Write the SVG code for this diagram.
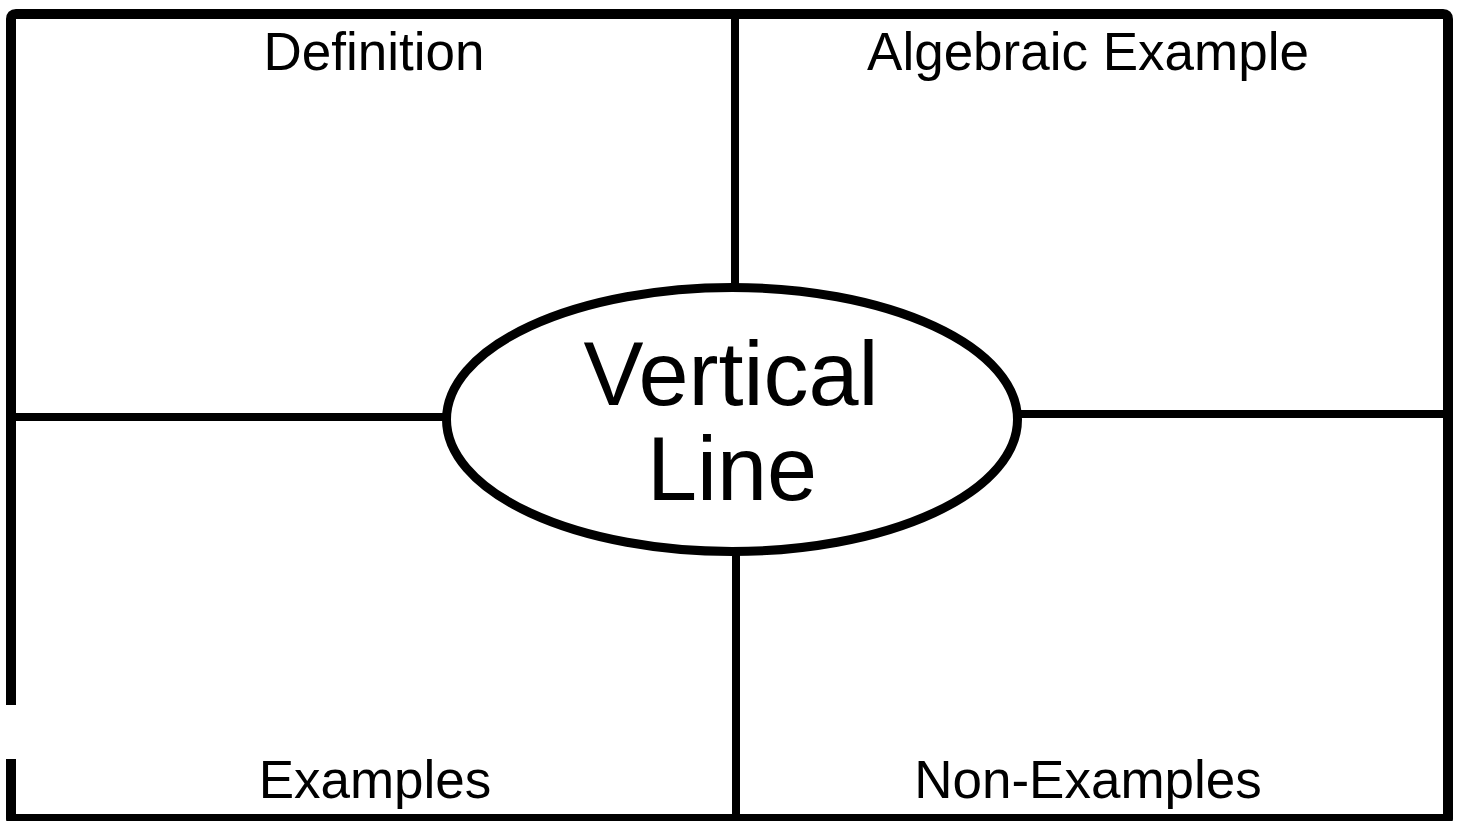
<svg xmlns="http://www.w3.org/2000/svg" width="1460" height="821" viewBox="0 0 1460 821">
  <style>
    .frame { fill: none; stroke: #000; stroke-width: 10; stroke-linejoin: round; }
    .div { fill: none; stroke: #000; stroke-width: 8; }
    .oval { fill: #fff; stroke: #000; stroke-width: 9; }
    .lbl { font-family: "Liberation Sans", Arial, sans-serif; font-size: 53px; fill: #000; text-anchor: middle; }
    .big { font-family: "Liberation Sans", Arial, sans-serif; font-size: 90px; fill: #000; text-anchor: middle; }
  </style>
  <rect width="1460" height="821" fill="#fff"/>
  <g id="frame">
    <path class="frame" d="M11,705 L11,19 Q11,14 16,14 L1443,14 Q1448,14 1448,19 L1448,819 L11,819 L11,759"/>
  </g>
  <g id="connectors">
    <line class="div" x1="735" y1="14" x2="735" y2="286"/>
    <line class="div" x1="736" y1="553" x2="736" y2="819"/>
    <line class="div" x1="11" y1="417" x2="446" y2="417"/>
    <line class="div" x1="1019" y1="414" x2="1448" y2="414"/>
  </g>
  <g id="definition">
    <text class="lbl" x="374" y="70">Definition</text>
  </g>
  <g id="algebraic-example">
    <text class="lbl" x="1088" y="70">Algebraic Example</text>
  </g>
  <g id="examples">
    <text class="lbl" x="375" y="798">Examples</text>
  </g>
  <g id="non-examples">
    <text class="lbl" x="1088" y="798">Non-Examples</text>
  </g>
  <g id="center">
    <ellipse class="oval" cx="732" cy="419.5" rx="285.5" ry="132"/>
    <text class="big" x="731" y="405">Vertical</text>
    <text class="big" x="732" y="500">Line</text>
  </g>
</svg>
